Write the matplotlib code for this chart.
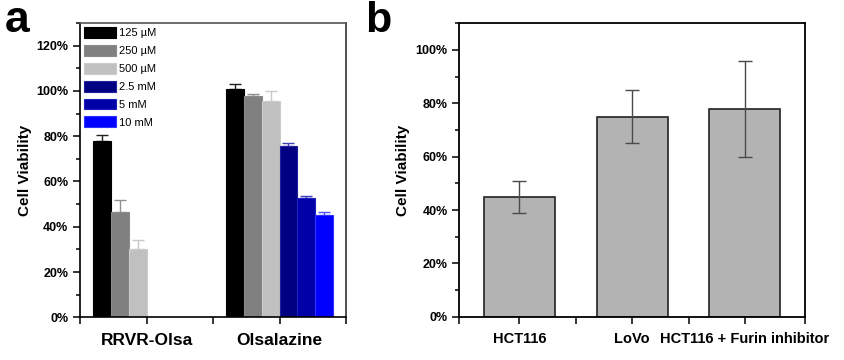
"""Cell viability bar charts: (a) dose series, (b) cell lines."""

import numpy as np
import matplotlib
matplotlib.use("Agg")
import matplotlib.pyplot as plt
from matplotlib.ticker import MultipleLocator, FixedLocator, PercentFormatter

plt.rcParams["font.family"] = ["Liberation Sans", "DejaVu Sans"]

# ---------------------------------------------------------------------------
# Data
# ---------------------------------------------------------------------------
groups_a = ["RRVR-Olsa", "Olsalazine"]
doses = ["125 \u00b5M", "250 \u00b5M", "500 \u00b5M", "2.5 mM", "5 mM", "10 mM"]
dose_colors = ["#000000", "#808080", "#c0c0c0", "#000080", "#0000a8", "#0000ff"]
dose_edges = ["#000000", "#8a8a8a", "#cccccc", "#2020a0", "#2020c0", "#3030ff"]
err_colors = ["#202020", "#909090", "#c8c8c8", "#4040b0", "#4040c0", "#5050ff"]

# rows = dose, columns = group (nan = not measured)
viab_a = np.array([
    [77.8, 100.8],
    [46.5, 97.6],
    [30.2, 95.7],
    [np.nan, 75.6],
    [np.nan, 52.6],
    [np.nan, 45.2],
])
err_a = np.array([
    [2.8, 2.2],
    [5.5, 1.0],
    [4.0, 4.2],
    [0.0, 1.3],
    [0.0, 1.0],
    [0.0, 1.1],
])

groups_b = ["HCT116", "LoVo", "HCT116 + Furin inhibitor"]
viab_b = [45, 75, 78]
err_b = [6, 10, 18]

fig = plt.figure(figsize=(8.45, 3.6), dpi=100)

# ---------------------------------------------------------------------------
# Panel a
# ---------------------------------------------------------------------------
ax = fig.add_axes([0.0947, 0.1186, 0.3148, 0.8175])
x = np.arange(1, len(groups_a) + 1)
n = len(doses)
w = 0.8 / n
for i in range(n):
    pos = x - 0.4 + w * (i + 0.5)
    vals = viab_a[i]
    ok = ~np.isnan(vals)
    ax.bar(pos[ok], vals[ok], width=w, color=dose_colors[i],
           edgecolor=dose_edges[i], linewidth=0.8, label=doses[i], zorder=2)
    ax.errorbar(pos[ok], vals[ok],
                yerr=[np.zeros(ok.sum()), err_a[i][ok]],
                fmt="none", ecolor=err_colors[i], elinewidth=1.0,
                capsize=4, capthick=1.0, zorder=1)

ax.set_xlim(0.5, 2.5)
ax.set_ylim(0, 130)
ax.xaxis.set_major_locator(FixedLocator(x))
ax.xaxis.set_minor_locator(FixedLocator([0.5, 1.5, 2.5]))
ax.set_xticklabels(groups_a, fontsize=12.5, fontweight="bold")
ax.yaxis.set_major_locator(MultipleLocator(20))
ax.yaxis.set_minor_locator(MultipleLocator(10))
ax.yaxis.set_major_formatter(PercentFormatter(decimals=0))
for lbl in ax.get_yticklabels():
    lbl.set_fontweight("bold")
ax.tick_params(axis="y", which="major", labelsize=9, length=5, width=1.1)
ax.tick_params(axis="y", which="minor", length=3, width=1.1)
ax.tick_params(axis="x", which="both", length=5, width=1.1, pad=6)
ax.set_ylabel("Cell Viability", fontsize=11, fontweight="bold", labelpad=3)
for s in ax.spines.values():
    s.set_linewidth(1.2)
ax.spines["top"].set_color("#555555")
ax.spines["right"].set_color("#333333")

ax.legend(loc="upper left", fontsize=8, frameon=False, handlelength=2.85,
          handleheight=1.14, labelspacing=0.6, handletextpad=0.35,
          borderaxespad=0.0, borderpad=0.35)

fig.text(0.006, 0.912, "a", fontsize=32, fontweight="bold")

# ---------------------------------------------------------------------------
# Panel b
# ---------------------------------------------------------------------------
bx = fig.add_axes([0.5436, 0.1203, 0.4091, 0.8150])
xb = np.arange(1, len(groups_b) + 1)
bx.bar(xb, viab_b, width=0.63, color="#b3b3b3", edgecolor="#222222",
       linewidth=1.2, zorder=2)
bx.errorbar(xb, viab_b, yerr=err_b, fmt="none", ecolor="#4a4a4a",
            elinewidth=1.0, capsize=5, capthick=1.0, zorder=3)

bx.set_xlim(0.467, 3.533)
bx.set_ylim(0, 110)
bx.xaxis.set_major_locator(FixedLocator(xb))
bx.xaxis.set_minor_locator(FixedLocator([0.467, 1.5, 2.5, 3.533]))
bx.set_xticklabels(groups_b, fontsize=10.5, fontweight="bold")
bx.yaxis.set_major_locator(MultipleLocator(20))
bx.yaxis.set_minor_locator(MultipleLocator(10))
bx.yaxis.set_major_formatter(PercentFormatter(decimals=0))
for lbl in bx.get_yticklabels():
    lbl.set_fontweight("bold")
bx.tick_params(axis="y", which="major", labelsize=9, length=5, width=1.1)
bx.tick_params(axis="y", which="minor", length=3, width=1.1)
bx.tick_params(axis="x", which="both", length=5, width=1.1, pad=6)
bx.set_ylabel("Cell Viability", fontsize=11, fontweight="bold", labelpad=4)
for s in bx.spines.values():
    s.set_linewidth(1.3)

fig.text(0.432, 0.910, "b", fontsize=31, fontweight="bold")

fig.savefig("out.png", dpi=100)
